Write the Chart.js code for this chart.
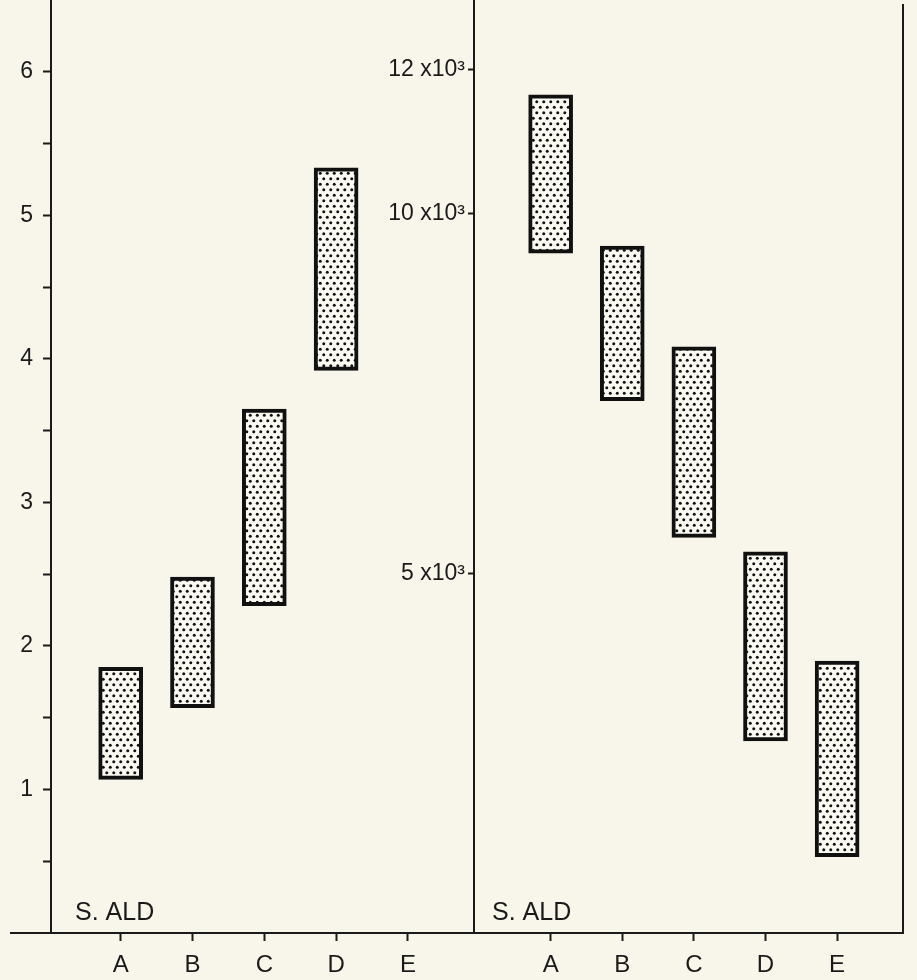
<!DOCTYPE html>
<html>
<head>
<meta charset="utf-8">
<script src="https://cdn.jsdelivr.net/npm/chart.js@4"></script>
<style>
  html, body { margin: 0; padding: 0; background: #f8f6ea; }
  #wrap { position: relative; width: 917px; height: 980px; overflow: hidden; }
  canvas { position: absolute; top: 0; }
  #leftChart { left: 0; }
  #rightChart { left: 374px; }
</style>
</head>
<body>
<div id="wrap">
  <canvas id="leftChart" width="474" height="980"></canvas>
  <canvas id="rightChart" width="543" height="980"></canvas>
</div>
<script>
// --- Data ---
const categories = ['A', 'B', 'C', 'D', 'E'];
const leftLow  = [1.07, 1.57, 2.28, 3.92, null];
const leftHigh = [1.85, 2.48, 3.65, 5.33, null];
const rightLow  = [9450, 7400, 5500, 2670, 1060];
const rightHigh = [11650, 9550, 8150, 5300, 3780];
const leftTicks  = [0.5, 1, 1.5, 2, 2.5, 3, 3.5, 4, 4.5, 5, 5.5, 6];
const rightTicks = [5000, 10000, 12000];
const panelLabel = 'S. ALD';

const ink = '#1a1a1a';
const fontFamily = "'Liberation Sans', Arial, sans-serif";

// stippled fill like the printed bars
const makeStipple = () => {
    const c = document.createElement('canvas');
    c.width = 7; c.height = 11;
    const g = c.getContext('2d');
    g.fillStyle = '#fbfaf3';
    g.fillRect(0, 0, 7, 11);
    g.fillStyle = '#121212';
    [[1.75, 2.75], [5.25, 8.25]].forEach(([x, y]) => {
        g.beginPath();
        g.arc(x, y, 1.5, 0, Math.PI * 2);
        g.fill();
    });
    return g.createPattern(c, 'repeat');
};

// plugin: axis extension, frame line and panel label
const decor = (opts) => ({
    id: 'decor',
    afterDraw(chart) {
        const { ctx, chartArea } = chart;
        ctx.save();
        ctx.strokeStyle = ink;
        ctx.lineWidth = 2;
        if (opts.extendLeft) {
            ctx.beginPath();
            ctx.moveTo(chartArea.left - opts.extendLeft, chartArea.bottom);
            ctx.lineTo(chartArea.left, chartArea.bottom);
            ctx.stroke();
        }
        if (opts.rightBorder) {
            ctx.beginPath();
            ctx.moveTo(chartArea.right, chartArea.top + 4);
            ctx.lineTo(chartArea.right, chartArea.bottom);
            ctx.stroke();
        }
        ctx.fillStyle = ink;
        ctx.font = `25px ${fontFamily}`;
        ctx.textBaseline = 'alphabetic';
        ctx.fillText(panelLabel, chartArea.left + opts.labelX, chartArea.bottom - 13);
        ctx.restore();
    }
});

const buildPanel = (id, cfg) => {
    const data = categories.map((c, i) => ({
        x: i + 1,
        y: cfg.low[i] == null ? null : [cfg.low[i], cfg.high[i]]
    }));

    new Chart(document.getElementById(id), {
        type: 'bar',
        data: {
            datasets: [{
                data: data,
                backgroundColor: makeStipple(),
                borderColor: '#111',
                borderWidth: 4,
                borderSkipped: false,
                barThickness: 44
            }]
        },
        options: {
            responsive: false,
            animation: false,
            layout: { padding: { top: 0, left: 0, right: cfg.padRight, bottom: 0 } },
            plugins: { legend: { display: false }, tooltip: { enabled: false } },
            scales: {
                x: {
                    type: 'linear',
                    min: cfg.xMin,
                    max: cfg.xMax,
                    offset: false,
                    afterBuildTicks: (s) => { s.ticks = categories.map((c, i) => ({ value: i + 1 })); },
                    afterFit: (s) => { s.height = 47; s.paddingLeft = 0; s.paddingRight = 0; },
                    border: { display: true, color: ink, width: 2 },
                    grid: { offset: false, drawOnChartArea: false, drawTicks: true, tickLength: 8, tickWidth: 2, tickColor: ink },
                    ticks: {
                        color: ink,
                        padding: 10,
                        maxRotation: 0,
                        font: { family: fontFamily, size: 24 },
                        callback: (v) => categories[v - 1]
                    }
                },
                y: {
                    min: 0,
                    max: cfg.yMax,
                    afterBuildTicks: (s) => { s.ticks = cfg.ticks.map(v => ({ value: v })); },
                    afterFit: (s) => { s.width = cfg.yWidth; s.paddingTop = 0; s.paddingBottom = 0; },
                    border: { display: true, color: ink, width: 2 },
                    grid: { drawOnChartArea: false, drawTicks: true, tickLength: cfg.tickLen, tickWidth: 2, tickColor: ink },
                    ticks: {
                        color: ink,
                        padding: cfg.tickPad,
                        font: { family: fontFamily, size: 23 },
                        callback: cfg.format
                    }
                }
            }
        },
        plugins: [decor(cfg.decor)]
    });
};

document.addEventListener('DOMContentLoaded', () => {
    buildPanel('leftChart', {
        low: leftLow, high: leftHigh,
        xMin: 0.03, xMax: 5.92,
        yMax: 6.5, ticks: leftTicks,
        yWidth: 51, tickLen: 8, tickPad: 10, padRight: 0,
        format: (v) => Number.isInteger(v) ? String(v) : '',
        decor: { extendLeft: 41, rightBorder: false, labelX: 24 }
    });
    buildPanel('rightChart', {
        low: rightLow, high: rightHigh,
        xMin: -0.07, xMax: 5.92,
        yMax: 12970, ticks: rightTicks,
        yWidth: 100, tickLen: 6, tickPad: 3, padRight: 14,
        format: (v) => `${v / 1000} x10³`,
        decor: { extendLeft: 0, rightBorder: true, labelX: 18 }
    });
});
</script>
</body>
</html>
